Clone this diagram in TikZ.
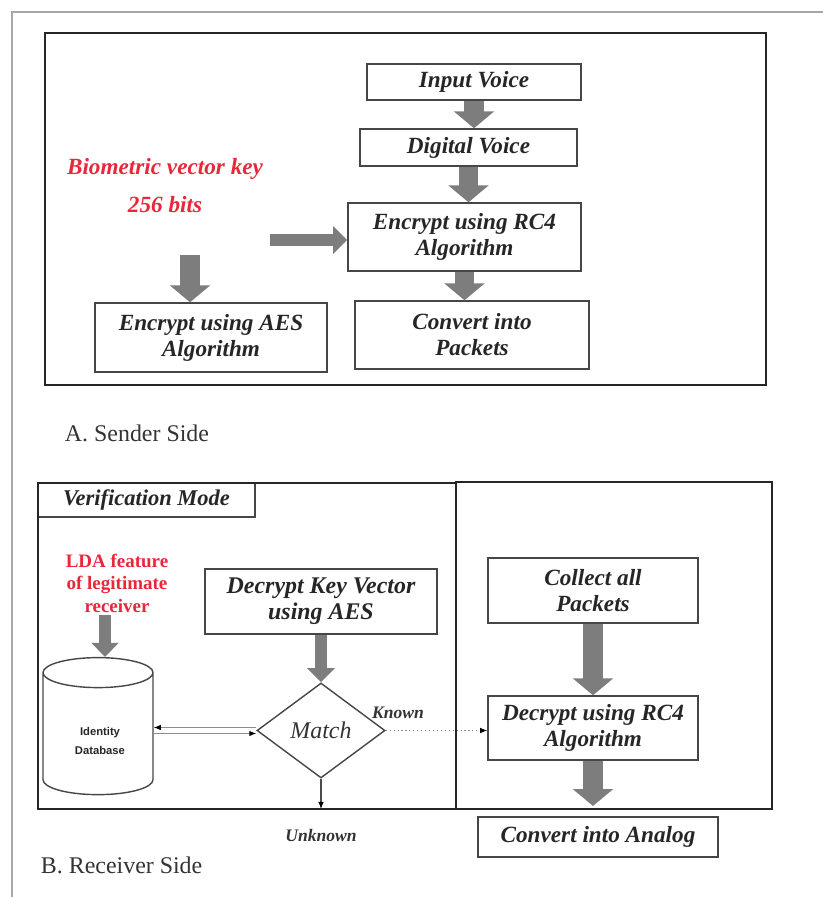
\documentclass[tikz,border=0pt]{standalone}
\usepackage{fontspec}
\setmainfont{Liberation Serif}
\newfontfamily\dbfont{Liberation Sans}
\usetikzlibrary{arrows.meta,shapes.geometric,positioning,calc}
\definecolor{boxline}{RGB}{70,70,70}
\definecolor{arrowgray}{RGB}{125,125,125}
\definecolor{keyred}{RGB}{232,40,58}

\begin{document}
\begin{tikzpicture}[x=0.025cm, y=-0.025cm,
  procbox/.style={draw=boxline, line width=1pt, align=center, inner sep=2pt,
    font=\fontsize{16.5}{18.5}\selectfont\bfseries\itshape, text=black!85},
  frame/.style={draw=black!85, line width=1.8pt},
  fatarrow/.style={draw=arrowgray, line width=14pt, -{Triangle[width=28pt,length=12pt]}},
  slimarrow/.style={draw=arrowgray, line width=9pt, -{Triangle[width=19pt,length=10pt]}},
  redtext/.style={text=keyred, align=center},
  linklabel/.style={font=\fontsize{12.5}{14}\selectfont\bfseries\itshape, text=black!80},
  dbline/.style={draw=black!45, line width=0.8pt, -{Latex[length=5pt,width=4pt,color=black]}},
  sidetext/.style={anchor=west, font=\fontsize{17}{20}\selectfont, text=black!80}]

  \useasboundingbox (0,0) rectangle (823,897);
  \draw[black!35, line width=1.5pt] (823,12) -- (12,12) -- (12,897);

  % sender side
  \node[procbox, minimum width=5.35cm, minimum height=0.9cm] (invoice) at (474,82) {Input Voice};
  \node[procbox, minimum width=5.425cm, minimum height=0.925cm] (digvoice) at (468.5,147.5) {Digital Voice};
  \node[procbox, minimum width=5.825cm, minimum height=1.7cm] (rcenc) at (464.5,237) {Encrypt using RC4\\Algorithm};
  \node[procbox, minimum width=5.85cm, minimum height=1.7cm] (packets) at (472,335) {Convert into\\Packets};
  \node[procbox, minimum width=5.8cm, minimum height=1.725cm] (aesenc) at (211,337.5) {Encrypt using AES\\Algorithm};
  \node[redtext, font=\fontsize{16.5}{27}\selectfont\bfseries\itshape] (keyvec) at (165,186) {Biometric vector key\\256 bits};

  \coordinate (keyright) at (270,240);
  \coordinate (keydown) at (190,255);
  \draw[fatarrow] (invoice.south) -- (invoice.south |- digvoice.north);
  \draw[fatarrow] (digvoice.south) -- (digvoice.south |- rcenc.north);
  \draw[fatarrow] (rcenc.south) -- (rcenc.south |- packets.north);
  \draw[slimarrow] (keyright) -- (keyright -| rcenc.west);
  \draw[fatarrow] (keydown) -- (keydown |- aesenc.north);
  \draw[frame] (45,33) rectangle (766,385);

  \node[sidetext] (sender) at (60,433) {A. Sender Side};

  % receiver side
  \node[procbox, minimum width=5.425cm, minimum height=0.85cm, font=\fontsize{16}{18}\selectfont\bfseries\itshape] (mode) at (146.5,500) {Verification Mode};
  \node[redtext, font=\fontsize{13.5}{16}\selectfont\bfseries] (lda) at (117,583) {LDA feature\\of legitimate\\receiver};
  \node[cylinder, shape border rotate=90, aspect=3.2, draw=boxline, line width=1pt,
        minimum width=2.75cm, minimum height=3.425cm] (db) at (98,737) {};
  \node[font=\dbfont\bfseries\fontsize{8}{13}\selectfont, align=center, text=black!85] (dblabel) at (100,741) {Identity\\Database};
  \node[procbox, minimum width=5.8cm, minimum height=1.625cm, font=\fontsize{17}{18.5}\selectfont\bfseries\itshape] (keydec) at (321,601.5) {Decrypt Key Vector\\using AES};
  \node[diamond, draw=boxline, line width=1pt, minimum width=3.2cm, minimum height=2.375cm,
        inner sep=0pt, font=\fontsize{17}{20}\selectfont\itshape, text=black!80] (match) at (321,730.5) {Match};
  \node[procbox, minimum width=5.25cm, minimum height=1.625cm] (collect) at (593,590.5) {Collect all\\Packets};
  \node[procbox, minimum width=5.25cm, minimum height=1.6cm] (rcdec) at (593,728) {Decrypt using RC4\\Algorithm};
  \node[procbox, minimum width=6cm, minimum height=1cm] (analog) at (598,837) {Convert into Analog};
  \node[linklabel] (known) at (398,713) {Known};
  \node[linklabel] (unknown) at (321,835) {Unknown};

  \coordinate (ldaout) at (105,615);
  \coordinate (unkend) at (321,809);
  \coordinate (rcout) at (593,806);
  \draw[slimarrow] (ldaout) -- (ldaout |- db.north);
  \draw[slimarrow] (keydec.south) -- (keydec.south |- match.north);
  \draw[dbline] ($(match.west)+(0,-3)$) -- ($(match.west -| db.east)+(0,-3)$);
  \draw[dbline] ($(match.west -| db.east)+(0,3)$) -- ($(match.west)+(0,3)$);
  \draw[dbline, dotted] (match.east) -- (match.east -| rcdec.west);
  \draw[draw=black!70, line width=0.8pt, -{Latex[length=5pt,width=4pt,color=black]}] (match.south) -- (unkend);
  \draw[fatarrow] (collect.south) -- (rcdec.north);
  \draw[fatarrow] (rcdec.south) -- (rcout);
  \draw[frame] (38,483) rectangle (456,809);
  \draw[frame] (456,482) rectangle (772,809);

  \node[sidetext] (receiver) at (36,865) {B. Receiver Side};
\end{tikzpicture}
\end{document}
